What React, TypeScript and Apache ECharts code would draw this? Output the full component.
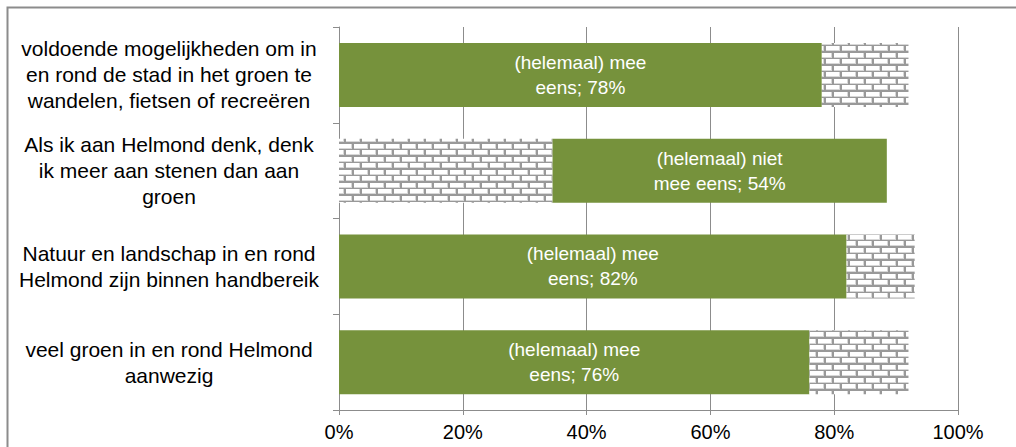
import React, { useEffect, useRef } from "react";
import * as echarts from "echarts";

const categories = [
  "voldoende mogelijkheden om in\nen rond de stad in het groen te\nwandelen, fietsen of recreëren",
  "Als ik aan Helmond denk, denk\nik meer aan stenen dan aan\ngroen",
  "Natuur en landschap in en rond\nHelmond zijn binnen handbereik",
  "veel groen in en rond Helmond\naanwezig",
];
const firstSegment = [78, 34.5, 82, 76];
const secondSegment = [14, 54, 11, 16];
// which segment is green (1 = first, 2 = second)
const greenSegment = [1, 2, 1, 1];
const greenLabels = [
  "(helemaal) mee\neens; 78%",
  "(helemaal) niet\nmee eens; 54%",
  "(helemaal) mee\neens; 82%",
  "(helemaal) mee\neens; 76%",
];
const xTicks = [0, 20, 40, 60, 80, 100];

const GREEN = "#76923C";
const GRAY = "#8c8c8c";
const FONT = "'Liberation Sans', Arial, sans-serif";

function makeBrick(): string {
  const c = document.createElement("canvas");
  c.width = 16;
  c.height = 13;
  const g = c.getContext("2d")!;
  g.fillStyle = "#999999";
  g.fillRect(0, 0, 16, 13);
  const brick = (x: number, y: number, w: number, h: number) => {
    g.fillStyle = "#d8d8d8";
    g.fillRect(x, y, w, h);
    g.fillStyle = "#ffffff";
    g.fillRect(x, y, w - 1, h - 1);
  };
  brick(2, 1, 14, 5);
  brick(-6, 7, 14, 5);
  brick(10, 7, 14, 5);
  return c.toDataURL();
}

export default function App() {
  const ref = useRef<HTMLDivElement>(null);
  useEffect(() => {
    if (!ref.current) return;
    const chart = echarts.init(ref.current, null, { renderer: "svg" });
    const brick = {
      image: makeBrick(),
      repeat: "repeat",
      imageWidth: 16,
      imageHeight: 13,
    } as any;
    const mkData = (vals: number[], seg: number) =>
      vals.map((v, i) => {
        const isGreen = greenSegment[i] === seg;
        return {
          value: v,
          itemStyle: { color: isGreen ? GREEN : brick },
          label: {
            show: isGreen,
            formatter: greenLabels[i],
          },
        };
      });
    const labelStyle = {
      position: "inside",
      color: "#ffffff",
      fontSize: 19,
      lineHeight: 25,
      fontFamily: FONT,
    };
    chart.setOption({
      animation: false,
      graphic: [
        {
          type: "rect",
          left: 5,
          top: 5,
          shape: { x: 0, y: 0, width: 1100, height: 1000 },
          style: { fill: "none", stroke: GRAY, lineWidth: 2 },
          silent: true,
        },
      ],
      grid: { left: 339, right: 58, top: 27, bottom: 37, containLabel: false },
      xAxis: {
        type: "value",
        min: 0,
        max: 100,
        interval: 20,
        axisLine: { show: true, lineStyle: { color: GRAY, width: 1 } },
        axisTick: { show: true, length: 5, lineStyle: { color: GRAY } },
        splitLine: { show: true, lineStyle: { color: GRAY, width: 1 } },
        axisLabel: {
          color: "#000",
          fontSize: 20,
          fontFamily: FONT,
          margin: 12,
          formatter: (v: number) => (xTicks.includes(v) ? v + "%" : ""),
        },
      },
      yAxis: {
        type: "category",
        inverse: true,
        data: categories,
        axisLine: { show: true, lineStyle: { color: GRAY, width: 1 } },
        axisTick: { show: true, length: 6, lineStyle: { color: GRAY } },
        axisLabel: {
          color: "#000",
          fontSize: 21,
          lineHeight: 26,
          fontFamily: FONT,
          align: "center",
          margin: 170,
        },
      },
      series: [
        {
          type: "bar",
          stack: "s",
          barWidth: 64,
          data: mkData(firstSegment, 1),
          label: labelStyle,
        },
        {
          type: "bar",
          stack: "s",
          barWidth: 64,
          data: mkData(secondSegment, 2),
          label: labelStyle,
        },
      ],
    });
    return () => chart.dispose();
  }, []);
  return (
    <div
      ref={ref}
      style={{ position: "absolute", left: 0, top: 0, width: 1016, height: 447, background: "#fff" }}
    />
  );
}
